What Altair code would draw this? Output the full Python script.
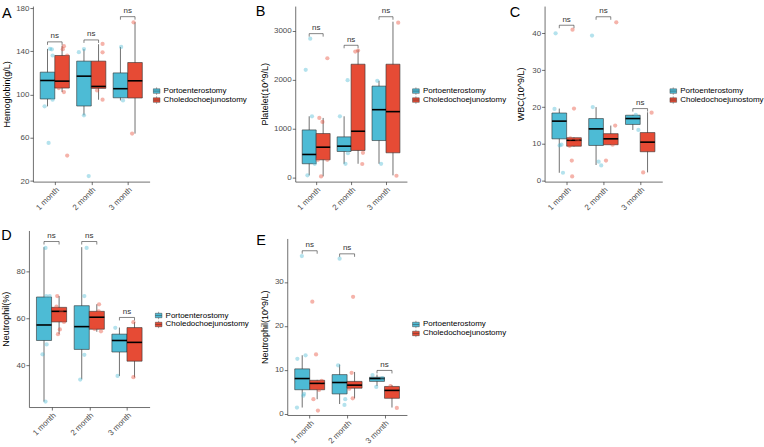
import json
import altair as alt
import pandas as pd

months = ["1 month", "2 month", "3 month"]
groups = ["Portoenterostomy", "Choledochoejunostomy"]
group_colors = ["#4DBBD5", "#E64B35"]
sig_label = "ns"

# ---------- Panel A: Hemoglobin ----------
A_title = "Hemoglobin(g/L)"
A_box_blue = [[89.1, 95.9, 113.0, 120.7, 142.2], [80.8, 89.4, 117.0, 130.9, 142.0], [94.6, 97.0, 105.4, 120.0, 144.0]]
A_box_red = [[102.3, 106.0, 112.4, 136.1, 145.3], [95.2, 105.7, 107.5, 130.9, 146.5], [63.9, 96.8, 112.7, 129.6, 166.8]]
A_pts_blue = [[142.2, 141.8, 136.1, 95.2, 89.1, 55.3], [142.0, 139.2, 80.8, 24.6], [144.0, 94.6]]
A_jit_blue = [[0.07, 0.12, 0.14, 0.14, -0.08, 0.03], [0.0, -0.14, 0.0, 0.13], [0.02, 0.07]]
A_pts_red = [[144.7, 141.9, 136.1, 106.0, 102.3, 43.6], [146.8, 139.0, 103.8, 95.2], [166.8, 63.9]]
A_jit_red = [[0.05, 0.02, 0.14, -0.09, 0.05, 0.14], [0.11, 0.11, -0.04, 0.11], [-0.04, -0.08]]
A_brackets = [148.7, 150.5, 172.0]
A_domain = [19.5, 181.8]
A_ticks = [20, 60, 100, 140, 180]

# ---------- Panel B: Platelet ----------
B_title = "Platelet(10^9/L)"
B_box_blue = [[48, 285, 475, 977, 1256], [285, 536, 645, 835, 1256], [285, 760, 1391, 1873, 1982]]
B_box_red = [[27, 366, 624, 903, 1222], [285, 557, 950, 2321, 2620], [48, 509, 1351, 2321, 3190]]
B_pts_blue = [[2844, 2206, 1256, 285, 48], [1995, 1256, 502, 285], [1982, 285]]
B_jit_blue = [[0.03, -0.10, 0.08, 0.16, -0.05], [0.10, -0.12, 0.11, 0.04], [-0.05, 0.06]]
B_pts_red = [[2443, 1222, 1140, 366, 366, 27], [2600, 2580, 510, 280], [3170, 40]]
B_jit_red = [[0.12, -0.11, -0.02, 0.12, -0.15, -0.06], [0.0, -0.08, 0.14, 0.12], [0.15, 0.10]]
B_brackets = [2946, 2708, 3292]
B_domain = [-80, 3510]
B_ticks = [0, 1000, 2000, 3000]

# ---------- Panel C: WBC ----------
C_title = "WBC(10^9/L)"
C_box_blue = [[2.2, 11.4, 16.2, 18.4, 19.6], [4.3, 9.6, 14.1, 16.9, 20.0], [13.8, 15.3, 16.9, 17.8, 17.9]]
C_box_red = [[9.3, 9.4, 11.0, 11.7, 11.8], [9.8, 9.8, 11.4, 12.8, 15.0], [2.3, 7.9, 10.5, 13.1, 18.6]]
C_pts_blue = [[40.0, 19.5, 9.8, 9.6, 2.2], [39.4, 20.0, 5.2, 4.2], [17.9, 13.8]]
C_jit_blue = [[-0.10, -0.13, 0.06, 0.01, 0.10], [-0.11, -0.09, 0.07, 0.14], [0.08, 0.15]]
C_pts_red = [[41.0, 19.6, 11.5, 11.2, 10.5, 9.5, 5.5, 1.2], [43.0, 15.0, 9.8, 5.5], [18.5, 2.3]]
C_jit_red = [[-0.04, 0.0, -0.10, 0.08, 0.14, -0.12, -0.06, -0.05], [0.15, 0.12, 0.05, -0.13], [0.11, -0.12]]
C_brackets = [42.2, 44.5, 19.6]
C_domain = [-0.2, 47.4]
C_ticks = [0, 10, 20, 30, 40]

# ---------- Panel D: Neutrophil % ----------
D_title = "Neutrophil(%)"
D_box_blue = [[24.6, 50.6, 57.2, 69.1, 90.3], [34.1, 46.8, 56.5, 65.4, 90.3], [35.5, 45.7, 50.6, 53.3, 56.1]]
D_box_red = [[53.3, 58.5, 63.0, 64.7, 69.5], [54.3, 55.4, 60.5, 63.0, 66.0], [34.9, 41.8, 49.8, 56.1, 58.4]]
D_pts_blue = [[90.0, 69.5, 69.5, 48.9, 44.7, 24.6], [90.0, 69.5, 44.5, 34.0], [56.0, 35.5]]
D_jit_blue = [[0.04, 0.06, 0.15, 0.07, -0.04, 0.04], [0.13, 0.07, 0.07, -0.04], [-0.11, -0.05]]
D_pts_red = [[69.5, 65.0, 63.0, 58.5, 55.3, 53.3], [66.0, 63.0, 55.5, 54.5], [58.4, 35.0]]
D_jit_red = [[-0.05, -0.07, 0.06, 0.13, 0.02, -0.03], [0.06, 0.05, -0.06, 0.11], [-0.03, -0.03]]
D_brackets = [92.7, 92.7, 60.4]
D_domain = [22.3, 97.4]
D_ticks = [40, 60, 80]

# ---------- Panel E: Neutrophil count ----------
E_title = "Neutrophil(10^9/L)"
E_box_blue = [[1.4, 5.45, 8.0, 10.2, 13.3], [2.2, 4.5, 7.1, 8.9, 11.2], [6.3, 7.35, 8.0, 8.3, 8.9]]
E_box_red = [[3.3, 5.45, 6.9, 7.6, 7.7], [3.5, 5.8, 6.5, 7.35, 9.5], [1.4, 3.5, 5.3, 6.2, 6.5]]
E_pts_blue = [[35.9, 13.3, 12.5, 4.5, 4.1, 1.4], [35.3, 11.0, 3.3, 2.0], [8.8, 8.1, 6.1]]
E_jit_blue = [[-0.01, 0.09, -0.13, 0.05, 0.03, -0.14], [0.0, -0.04, 0.15, 0.13], [-0.12, 0.14, -0.02]]
E_pts_red = [[25.5, 13.5, 7.5, 6.2, 5.4, 3.3, 0.7], [26.6, 9.3, 5.7, 3.5], [6.3, 1.3]]
E_jit_red = [[-0.13, -0.03, 0.12, 0.06, 0.05, -0.10, 0.02], [-0.04, -0.08, -0.14, -0.05], [-0.04, 0.13]]
E_brackets = [37.1, 36.4, 9.85]
E_domain = [-0.3, 39.9]
E_ticks = [0, 10, 20, 30]

DODGE = 0.2
HALF = 0.2
label_expr = json.dumps(months) + "[datum.value - 1]"
legend_symbol = "M-0.9,-0.6H0.9V0.6H-0.9Z M-0.9,0H0.9 M0,-0.6V-1 M0,0.6V1"


def box_frame(bb, br):
    rows = []
    for g, boxes in enumerate([bb, br]):
        off = -DODGE if g == 0 else DODGE
        for i, (lo, q1, med, q3, hi) in enumerate(boxes):
            xc = i + 1 + off
            rows.append(dict(group=groups[g], xc=xc, xl=xc - HALF, xr=xc + HALF,
                             lo=lo, q1=q1, med=med, q3=q3, hi=hi))
    return pd.DataFrame(rows)


def point_frame(pb, jb, pr, jr):
    rows = []
    for g, (pts, jits) in enumerate([(pb, jb), (pr, jr)]):
        off = -DODGE if g == 0 else DODGE
        for i in range(len(months)):
            for v, j in zip(pts[i], jits[i]):
                rows.append(dict(group=groups[g], xj=i + 1 + off + j, v=v))
    return pd.DataFrame(rows)


def bracket_frames(brs):
    bars = pd.DataFrame([dict(m=i + 1, bl=i + 1 - DODGE, br=i + 1 + DODGE, b=b, lab=sig_label)
                         for i, b in enumerate(brs)])
    ticks = pd.DataFrame([dict(x=i + 1 + s * DODGE, b=b) for i, b in enumerate(brs) for s in (-1, 1)])
    return bars, ticks


def panel(letter, title, bb, br, pb, jb, pr, jr, brs, ydom, yticks, geo):
    w, h, xr, yr, off, tx, lx, ly, legx, legy = geo
    xs = alt.Scale(domain=[0.4, 3.6], range=xr, nice=False, zero=False)
    ys = alt.Scale(domain=ydom, range=yr, nice=False, zero=False)
    xaxis = alt.Axis(values=[1, 2, 3], labelExpr=label_expr, title=None, labelAngle=315,
                     labelAlign="right", labelBaseline="top", labelPadding=1)
    yaxis = alt.Axis(values=yticks, title=title, titleX=tx, titleY=(yr[0] + yr[1]) / 2,
                     offset=off, labelPadding=1, format="d")

    def X(f):
        return alt.X(f, type="quantitative", scale=xs, axis=xaxis)

    def Y(f):
        return alt.Y(f, type="quantitative", scale=ys, axis=yaxis)

    color = alt.Color("group:N", scale=alt.Scale(domain=groups, range=group_colors),
                      legend=alt.Legend(orient="none", legendX=legx, legendY=legy, title=None,
                                        symbolType=legend_symbol, symbolSize=56,
                                        symbolStrokeColor="#333333", symbolStrokeWidth=0.45,
                                        symbolOpacity=1, labelFontSize=8, labelColor="black",
                                        rowPadding=0, clipHeight=8.5, labelOffset=3, padding=0))
    bdf = box_frame(bb, br)
    pdf = point_frame(pb, jb, pr, jr)
    bars, ticks = bracket_frames(brs)

    whisk = alt.Chart(bdf).mark_rule(color="#333333", strokeWidth=0.7).encode(
        x=X("xc"), y=Y("lo"), y2="hi")
    box = alt.Chart(bdf).mark_bar(stroke="#333333", strokeWidth=0.6).encode(
        x=X("xl"), x2="xr", y=Y("q1"), y2="q3", color=color)
    med = alt.Chart(bdf).mark_rule(color="black", strokeWidth=1.6).encode(
        x=X("xl"), x2="xr", y=Y("med"))
    pts = alt.Chart(pdf).mark_circle(size=18, opacity=0.42).encode(
        x=X("xj"), y=Y("v"), color=color)
    brh = alt.Chart(bars).mark_rule(color="#333333", strokeWidth=0.6).encode(
        x=X("bl"), x2="br", y=Y("b"))
    brt = alt.Chart(ticks).mark_rule(color="#333333", strokeWidth=0.6, y2Offset=3).encode(
        x=X("x"), y=Y("b"), y2="b")
    ns = alt.Chart(bars).mark_text(fontSize=8, dy=-3.5, baseline="alphabetic", color="#333333").encode(
        x=X("m"), y=Y("b"), text="lab:N")
    let = alt.Chart(pd.DataFrame({"t": [letter]})).mark_text(
        fontSize=14.5, align="left", baseline="top", color="black").encode(
        x=alt.value(lx), y=alt.value(ly), text="t:N")
    return alt.layer(whisk, box, med, pts, brh, brt, ns, let).properties(width=w, height=h)


# geometry: width, height, x-range, y-range, y-axis offset, titleX, letter x, letter y, legendX, legendY
pA = panel("A", A_title, A_box_blue, A_box_red, A_pts_blue, A_jit_blue, A_pts_red, A_jit_red,
           A_brackets, A_domain, A_ticks, (121, 176, [4, 121], [176, 0], -4, -21.5, -27, 1, 124, 81))
pB = panel("B", B_title, B_box_blue, B_box_red, B_pts_blue, B_jit_blue, B_pts_red, B_jit_red,
           B_brackets, B_domain, B_ticks, (120, 176, [8, 120], [176, 0], -8, -26, -31.5, -1, 125, 81))
pC = panel("C", C_title, C_box_blue, C_box_red, C_pts_blue, C_jit_blue, C_pts_red, C_jit_red,
           C_brackets, C_domain, C_ticks, (118, 176, [0, 118], [176, 0], 0, -19.5, -35, 0, 125, 81))
pD = panel("D", D_title, D_box_blue, D_box_red, D_pts_blue, D_jit_blue, D_pts_red, D_jit_red,
           D_brackets, D_domain, D_ticks, (121, 177, [0, 121], [177, 0], 0, -18, -27.7, -1, 126, 81))
pE = panel("E", E_title, E_box_blue, E_box_red, E_pts_blue, E_jit_blue, E_pts_red, E_jit_red,
           E_brackets, E_domain, E_ticks, (120, 185, [0, 120], [185, 8], 0, -18, -31, 3.5, 125, 90))

chart = alt.ConcatChart(
    concat=[pA, pB, pC, pD, pE], columns=3,
    spacing={"row": 49, "column": 138}, bounds="flush",
).resolve_scale(color="independent").resolve_legend(color="independent").properties(
    padding={"left": 1, "top": 2.5, "right": 0, "bottom": 0}
).configure(font="Liberation Sans").configure_view(stroke=None).configure_axis(
    labelFontSize=8, labelColor="#4D4D4D", tickColor="#333333", domainColor="#333333",
    tickSize=3, domainWidth=0.7, tickWidth=0.7, grid=False, titleFontSize=9,
    titleFontWeight="normal", titleColor="black"
)

chart.save("out.html", embed_options={"renderer": "svg", "actions": False})
